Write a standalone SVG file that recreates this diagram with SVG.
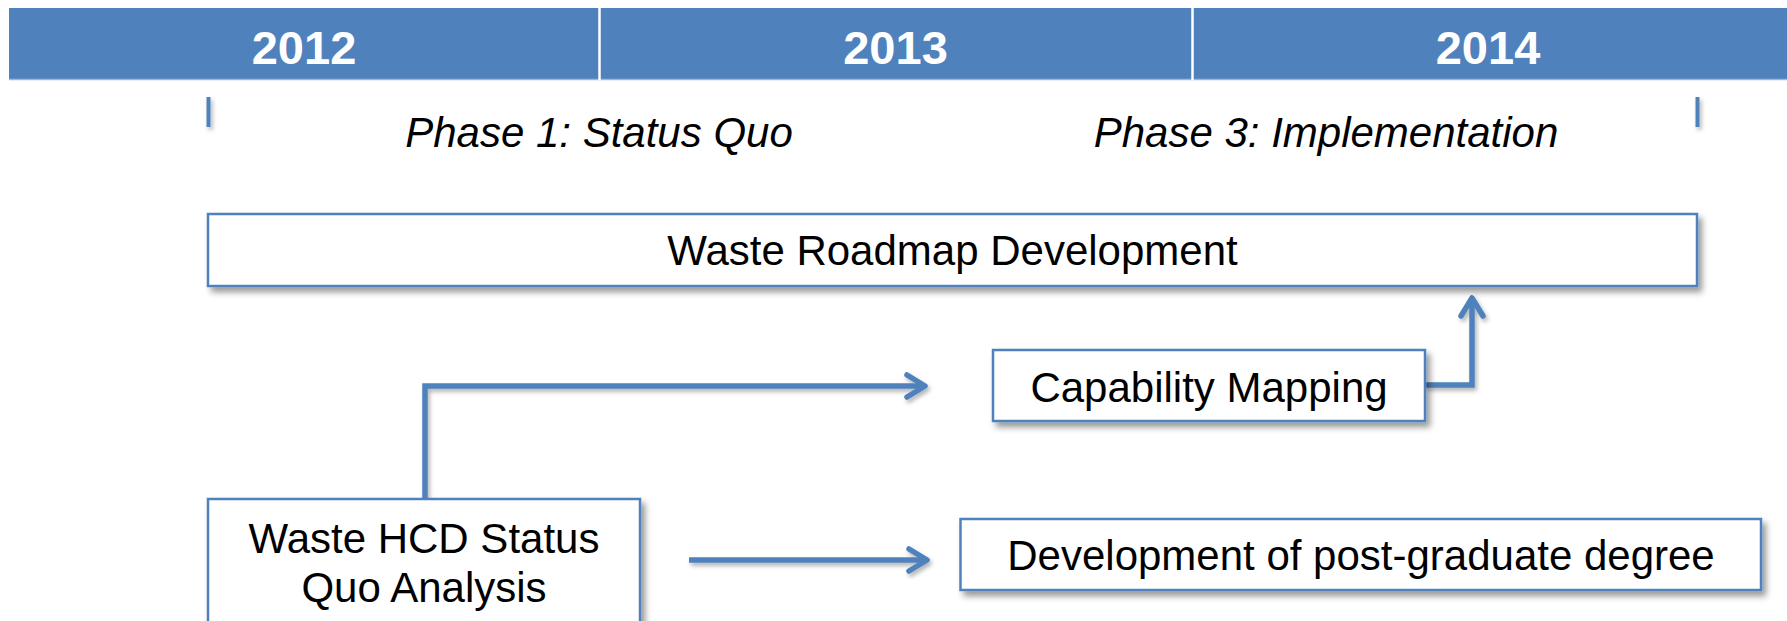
<svg xmlns="http://www.w3.org/2000/svg" width="1787" height="621" viewBox="0 0 1787 621">
<style>
.yr{font-family:"Liberation Sans",Arial,sans-serif;font-weight:bold;font-size:47px;fill:#fff;text-anchor:middle}
.ph{font-family:"Liberation Sans",Arial,sans-serif;font-style:italic;font-size:42px;fill:#000;text-anchor:middle}
.lbl{font-family:"Liberation Sans",Arial,sans-serif;font-size:42px;fill:#000;text-anchor:middle}
.box{fill:#fff;stroke:#4F81BD;stroke-width:2.5;filter:url(#sh)}
.conn{fill:none;stroke:#4F81BD;stroke-width:5.5;filter:url(#sh2)}
.tick{stroke:#4F81BD;stroke-width:4;filter:url(#sh2)}
</style>
<defs>
<filter id="sh" x="-10%" y="-20%" width="120%" height="160%">
<feDropShadow dx="4" dy="5" stdDeviation="3" flood-color="#000" flood-opacity="0.4"/>
</filter>
<filter id="sh2" filterUnits="userSpaceOnUse" x="0" y="0" width="1787" height="621">
<feDropShadow dx="2" dy="3" stdDeviation="2" flood-color="#000" flood-opacity="0.3"/>
</filter>
<marker id="arr" markerUnits="userSpaceOnUse" markerWidth="36" markerHeight="36" viewBox="-26 -18 36 36" refX="0" refY="0" orient="auto">
<path d="M-18,-11 L0,0 L-18,11" fill="none" stroke="#4F81BD" stroke-width="5.5" stroke-linecap="round" stroke-linejoin="round"/>
</marker>
</defs>
<g id="header">
<rect x="9" y="8" width="1778" height="72" fill="#4F81BD"/>
<line x1="9" y1="79.5" x2="1787" y2="79.5" stroke="#9DB8DC" stroke-width="1.5"/>
<line x1="599.5" y1="8" x2="599.5" y2="80" stroke="#fff" stroke-width="2.5"/>
<line x1="1192.5" y1="8" x2="1192.5" y2="80" stroke="#fff" stroke-width="2.5"/>
<text class="yr" x="304" y="64">2012</text>
<text class="yr" x="895.5" y="64">2013</text>
<text class="yr" x="1488" y="64">2014</text>
</g>
<g id="phases">
<line class="tick" x1="208.5" y1="97" x2="208.5" y2="127"/>
<line class="tick" x1="1697.5" y1="97" x2="1697.5" y2="127"/>
<text class="ph" x="599" y="147">Phase 1: Status Quo</text>
<text class="ph" x="1326" y="147">Phase 3: Implementation</text>
</g>
<g id="connectors">
<path class="conn" d="M425,499 V386 H925" marker-end="url(#arr)"/>
<path class="conn" d="M689,560 H927" marker-end="url(#arr)"/>
<path class="conn" d="M1425,385 H1472 V298" marker-end="url(#arr)"/>
</g>
<g id="roadmap">
<rect class="box" x="208" y="214" width="1489" height="72"/>
<text class="lbl" x="952.5" y="265">Waste Roadmap Development</text>
</g>
<g id="capability">
<rect class="box" x="993" y="350" width="432" height="71"/>
<text class="lbl" x="1209" y="402">Capability Mapping</text>
</g>
<g id="statusquo">
<rect class="box" x="208" y="499" width="432" height="150"/>
<text class="lbl" x="424" y="553">Waste HCD Status</text>
<text class="lbl" x="424" y="602">Quo Analysis</text>
</g>
<g id="postgrad">
<rect class="box" x="960.5" y="519" width="800.5" height="71"/>
<text class="lbl" x="1361" y="570">Development of post-graduate degree</text>
</g>
</svg>
